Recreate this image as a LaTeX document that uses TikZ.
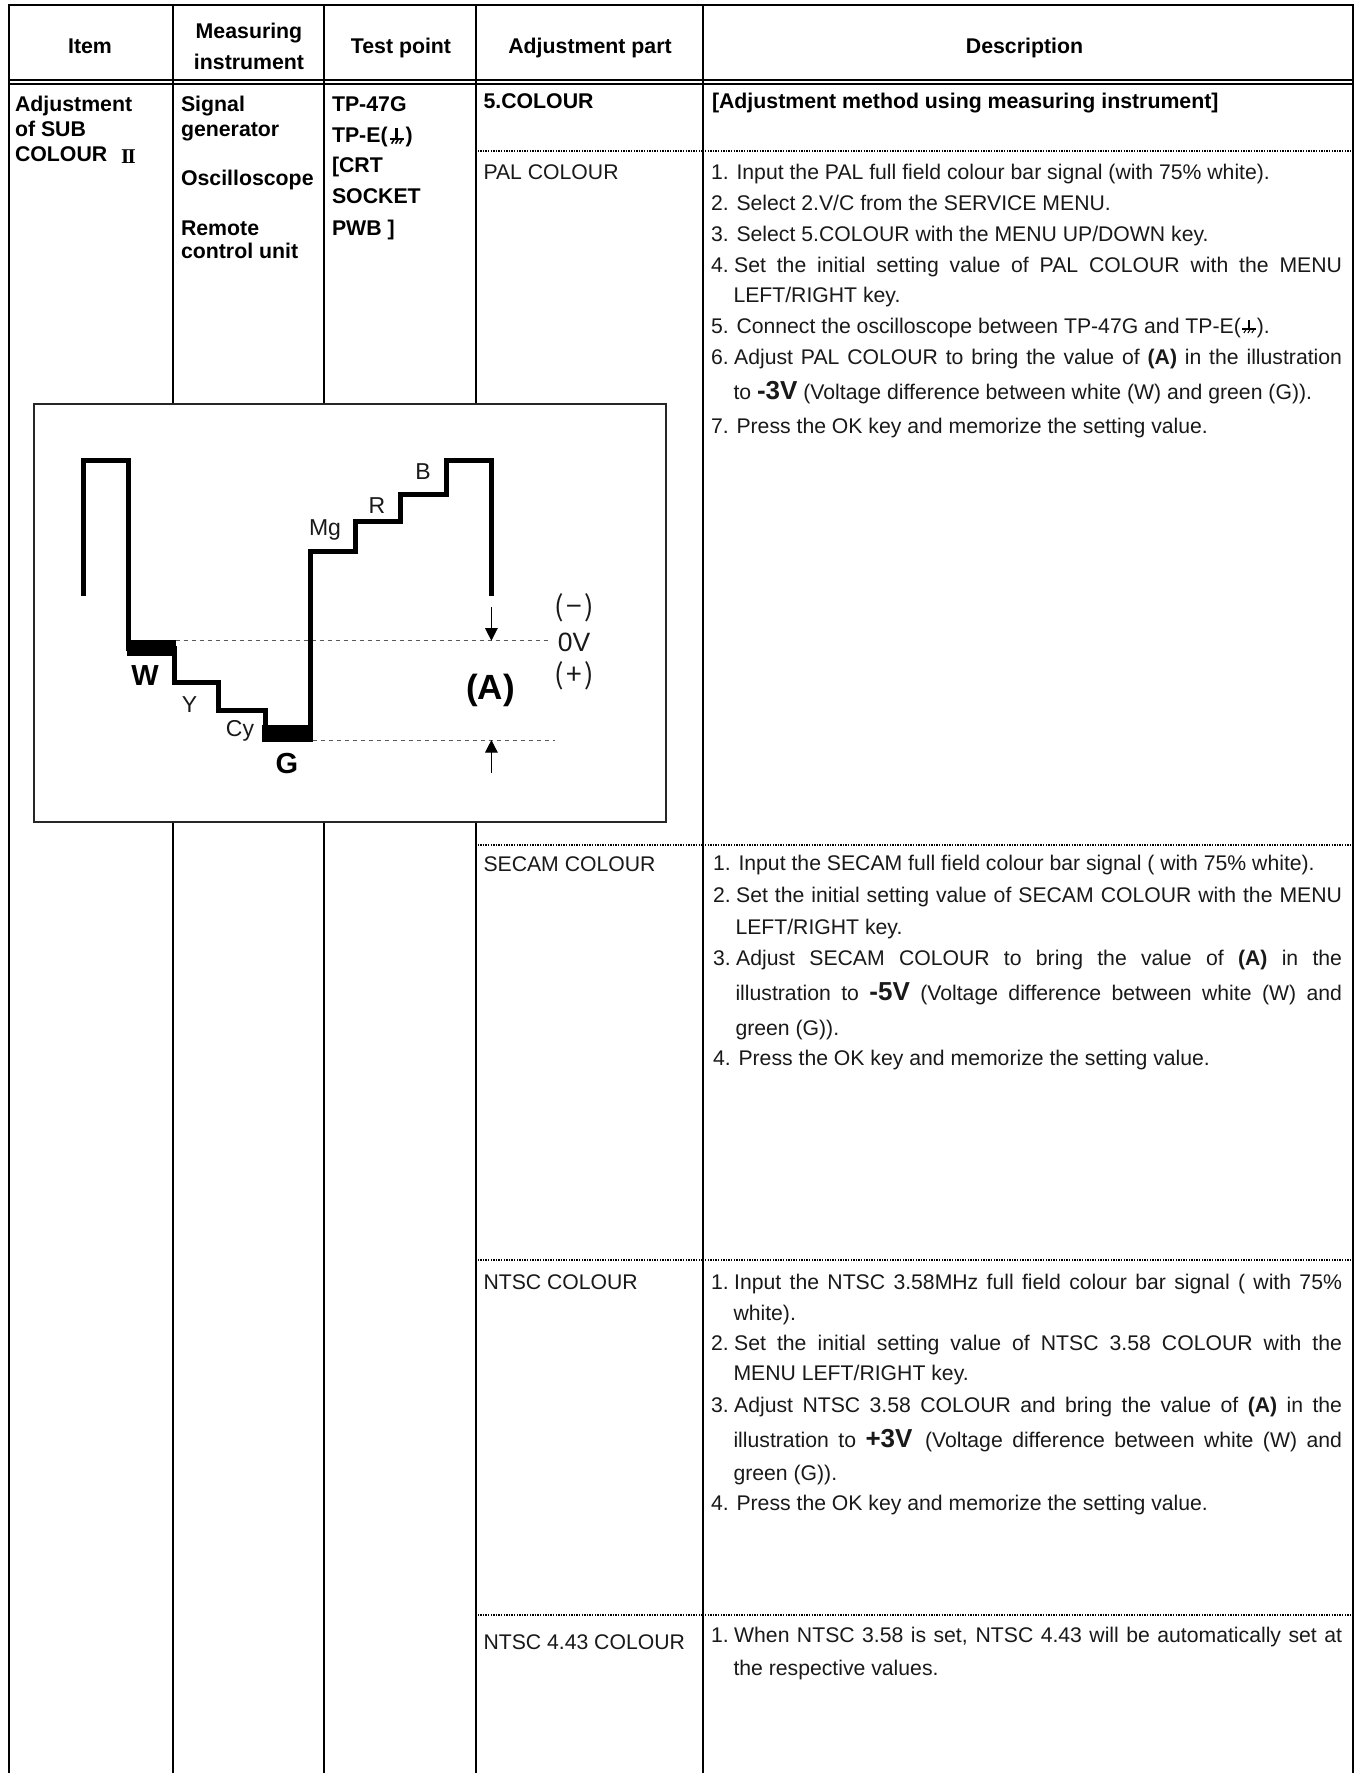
\documentclass[tikz,border=0pt]{standalone}
\usepackage{fontspec}
\setmainfont{Liberation Sans}
\newfontfamily\serifnum{Liberation Serif}
\newfontfamily\cjkf{Noto Sans CJK SC}
\usetikzlibrary{arrows.meta}
\newcommand{\jst}[2]{\makebox[#1pt][s]{#2}}
\newcommand{\bigv}[1]{{\fontsize{26}{30}\selectfont\bfseries #1}}
\tikzset{
  txt/.style={anchor=base west,inner sep=0pt,outer sep=0pt,font=\fontsize{21.2}{24}\selectfont,text=black!90},
  bld/.style={txt,font=\fontsize{21.3}{24}\selectfont\bfseries,text=black},
  hdr/.style={bld,anchor=base},
  wave/.style={draw=black,line width=5pt,line cap=butt,miter limit=10},
  rule/.style={draw=black,line width=2.1pt},
  dots/.style={draw=black,line width=2pt,dash pattern=on 1.4pt off 1.2pt},
  lvl/.style={draw=black!65,line width=1.2pt,dash pattern=on 4.5pt off 3.5pt},
  sig/.style={inner sep=0pt,outer sep=0pt,font=\fontsize{23}{26}\selectfont,text=black!90},
  tag/.style={inner sep=0pt,outer sep=0pt,font=\fontsize{29}{32}\selectfont\bfseries},
  fw/.style={inner sep=0pt,outer sep=0pt,font=\cjkf\fontsize{28}{30}\selectfont,text=black!90},
  arr/.style={draw=black,line width=1pt,-{Triangle[length=12.5pt,width=12.5pt]}},
  gnd/.style={draw=black,line width=#1},
}
\begin{document}
\begin{tikzpicture}[x=1pt,y=-1pt]
\useasboundingbox (0,0) rectangle (1354,1773);
\fill[white] (0,0) rectangle (1354,1773);
% table rules
\draw[rule] (8.7,1773) -- (8.7,5) -- (1352.6,5) -- (1352.6,1773);
\draw[rule] (8.7,80) -- (1354,80);
\draw[rule] (8.7,84) -- (1354,84);
\draw[rule] (173.3,5) -- (173.3,1773);
\draw[rule] (324.2,5) -- (324.2,1773);
\draw[rule] (475.7,5) -- (475.7,1773);
\draw[rule] (703,5) -- (703,1773);
% dotted separators
\foreach \yy in {150.5,845,1260,1615}{
  \draw[dots] (477.5,\yy) -- (701.5,\yy);
  \draw[dots] (705,\yy) -- (1351.5,\yy);
}
% headers
\node[hdr] (hItem) at (90,53.5) {Item};
\node[hdr] (hMeas1) at (249,38) {Measuring};
\node[hdr] (hMeas2) at (249,69) {instrument};
\node[hdr] (hTest) at (401,53.5) {Test point};
\node[hdr] (hAdj) at (590,53.5) {Adjustment part};
\node[hdr] (hDesc) at (1024.5,53.5) {Description};
% item column
\node[bld] (i1) at (15,111.7) {Adjustment};
\node[bld] (i2) at (15,136.7) {of SUB};
\node[bld] (i3) at (15,161.7) {COLOUR};
\node[txt,font=\serifnum\fontsize{21}{24}\selectfont\bfseries,text=black] (i4) at (121,163) {I\kern-1.5ptI};
% instrument column
\node[bld] (m1) at (181,111.7) {Signal};
\node[bld] (m2) at (181,136.7) {generator};
\node[bld] (m3) at (181,185) {Oscilloscope};
\node[bld] (m4) at (181,235) {Remote};
\node[bld] (m5) at (181,258) {control unit};
% test point column
\node[bld] (t1) at (332,111.7) {TP-47G};
\node[bld] (t2) at (332,142.7) {TP-E(};
\begin{scope}[shift={(t2.base east)}]
  \draw[gnd=2.4pt] (9,-15) -- (9,-4);
  \draw[gnd=2.4pt] (2,-4) -- (16,-4);
  \draw[gnd=1.6pt] (4,1) -- (7,-4) (8,1) -- (11,-4) (12,1) -- (15,-4);
\end{scope}
\node[bld,xshift=18pt] (t2c) at (t2.base east) {)};
\node[bld] (t3) at (332,172.7) {[CRT};
\node[bld] (t4) at (332,203) {SOCKET};
\node[bld] (t5) at (332,235) {PWB ]};
% adjustment part column
\node[bld] (a1) at (483.5,108.3) {5.COLOUR};
\node[txt] (a2) at (483.5,179) {PAL COLOUR};
\node[txt] (a3) at (483.5,871) {SECAM COLOUR};
\node[txt] (a4) at (483.5,1289) {NTSC COLOUR};
\node[txt] (a5) at (483.5,1649) {NTSC 4.43 COLOUR};
% description: PAL
\node[bld] (d0) at (712,108.3) {[Adjustment method using measuring instrument]};
\node[txt] (p1) at (711,179) {1. Input the PAL full field colour bar signal (with 75\% white).};
\node[txt] (p2) at (711,210) {2. Select 2.V/C from the SERVICE MENU.};
\node[txt] (p3) at (711,241) {3. Select 5.COLOUR with the MENU UP/DOWN key.};
\node[txt] (p4) at (711,272) {\jst{631}{4.\hspace{5.5pt}Set the initial setting value of PAL COLOUR with the MENU}};
\node[txt] (p4b) at (733.5,302) {LEFT/RIGHT key.};
\node[txt] (p5) at (711,333) {5. Connect the oscilloscope between TP-47G and TP-E(};
\begin{scope}[shift={(p5.base east)}]
  \draw[gnd=1.6pt] (8,-13) -- (8,-4);
  \draw[gnd=1.6pt] (1.5,-4) -- (15,-4);
  \draw[gnd=1pt] (3,0) -- (5.5,-4) (7,0) -- (9.5,-4) (11,0) -- (13.5,-4);
\end{scope}
\node[txt,xshift=16pt] (p5c) at (p5.base east) {).};
\node[txt] (p6) at (711,364) {\jst{631}{6.\hspace{5.5pt}Adjust PAL COLOUR to bring the value of \textbf{(A)} in the illustration}};
\node[txt] (p6b) at (733.5,399) {to \bigv{-3V} (Voltage difference between white (W) and green (G)).};
\node[txt] (p7) at (711,433) {7. Press the OK key and memorize the setting value.};
% description: SECAM
\node[txt] (s1) at (713,870) {1. Input the SECAM full field colour bar signal ( with 75\% white).};
\node[txt] (s2) at (713,902) {\jst{629}{2.\hspace{5.5pt}Set the initial setting value of SECAM COLOUR with the MENU}};
\node[txt] (s2b) at (735.5,934) {LEFT/RIGHT key.};
\node[txt] (s3) at (713,965) {\jst{629}{3.\hspace{5.5pt}Adjust SECAM COLOUR to bring the value of \textbf{(A)} in the}};
\node[txt] (s3b) at (735.5,1000) {\jst{606.5}{illustration to \bigv{-5V} (Voltage difference between white (W) and}};
\node[txt] (s3c) at (735.5,1035) {green (G)).};
\node[txt] (s4) at (713,1065) {4. Press the OK key and memorize the setting value.};
% description: NTSC
\node[txt] (n1) at (711,1289) {\jst{631}{1.\hspace{5.5pt}Input the NTSC 3.58MHz full field colour bar signal ( with 75\%}};
\node[txt] (n1b) at (733.5,1320) {white).};
\node[txt] (n2) at (711,1350) {\jst{631}{2.\hspace{5.5pt}Set the initial setting value of NTSC 3.58 COLOUR with the}};
\node[txt] (n2b) at (733.5,1380) {MENU LEFT/RIGHT key.};
\node[txt] (n3) at (711,1412) {\jst{631}{3.\hspace{5.5pt}Adjust NTSC 3.58 COLOUR and bring the value of \textbf{(A)} in the}};
\node[txt] (n3b) at (733.5,1447) {\jst{608.5}{illustration to \bigv{+3V}\hspace{3pt} (Voltage difference between white (W) and}};
\node[txt] (n3c) at (733.5,1480) {green (G)).};
\node[txt] (n4) at (711,1510) {4. Press the OK key and memorize the setting value.};
% description: NTSC 4.43
\node[txt] (q1) at (711,1642) {\jst{631}{1.\hspace{5.5pt}When NTSC 3.58 is set, NTSC 4.43 will be automatically set at}};
\node[txt] (q1b) at (733.5,1675) {the respective values.};
% illustration frame
\draw[draw=black!85,line width=2pt,fill=white] (34,404) rectangle (666,821.5);
% level lines
\draw[lvl] (175.7,640.7) -- (548,640.7);
\draw[lvl] (312.5,740.7) -- (555,740.7);
% waveform
\draw[wave] (83,595.7) -- (83,460) -- (128.6,460) -- (128.6,648) -- (174,648) -- (174,682.7)
  -- (218.7,682.7) -- (218.7,710) -- (265,710) -- (265,733) -- (310,733) -- (310,551.7)
  -- (355.4,551.7) -- (355.4,521.3) -- (400,521.3) -- (400,494.3) -- (446.3,494.3)
  -- (446.3,460) -- (491.4,460) -- (491.4,595.7);
\fill[black] (126.5,640) rectangle (175.7,655.7);
\fill[black] (262,725) rectangle (312.5,741.7);
% signal labels
\node[sig] (lB) at (423,471.7) {B};
\node[sig] (lR) at (377,506) {R};
\node[sig] (lMg) at (325,530) {Mg};
\node[sig] (lY) at (189.6,705) {Y};
\node[sig] (lCy) at (240,731) {Cy};
\node[tag] (lW) at (145,676) {W};
\node[tag] (lG) at (287,764) {G};
\node[tag,font=\fontsize{35}{38}\selectfont\bfseries] (lA) at (490.5,690) {(A)};
\node[sig,font=\fontsize{26.5}{30}\selectfont] (l0) at (574,642) {0V};
\node[fw] (lm) at (574,608) {(\kern2.5pt−\kern2.5pt)};
\node[fw] (lp) at (574,676) {(\kern2.5pt+\kern2.5pt)};
% measuring arrows
\coordinate (u0) at (491.4,607);
\coordinate (u1) at (491.4,640.7);
\coordinate (v0) at (491.4,772.7);
\coordinate (v1) at (491.4,740);
\draw[arr] (u0) -- (u1);
\draw[arr] (v0) -- (v1);
\end{tikzpicture}
\end{document}
